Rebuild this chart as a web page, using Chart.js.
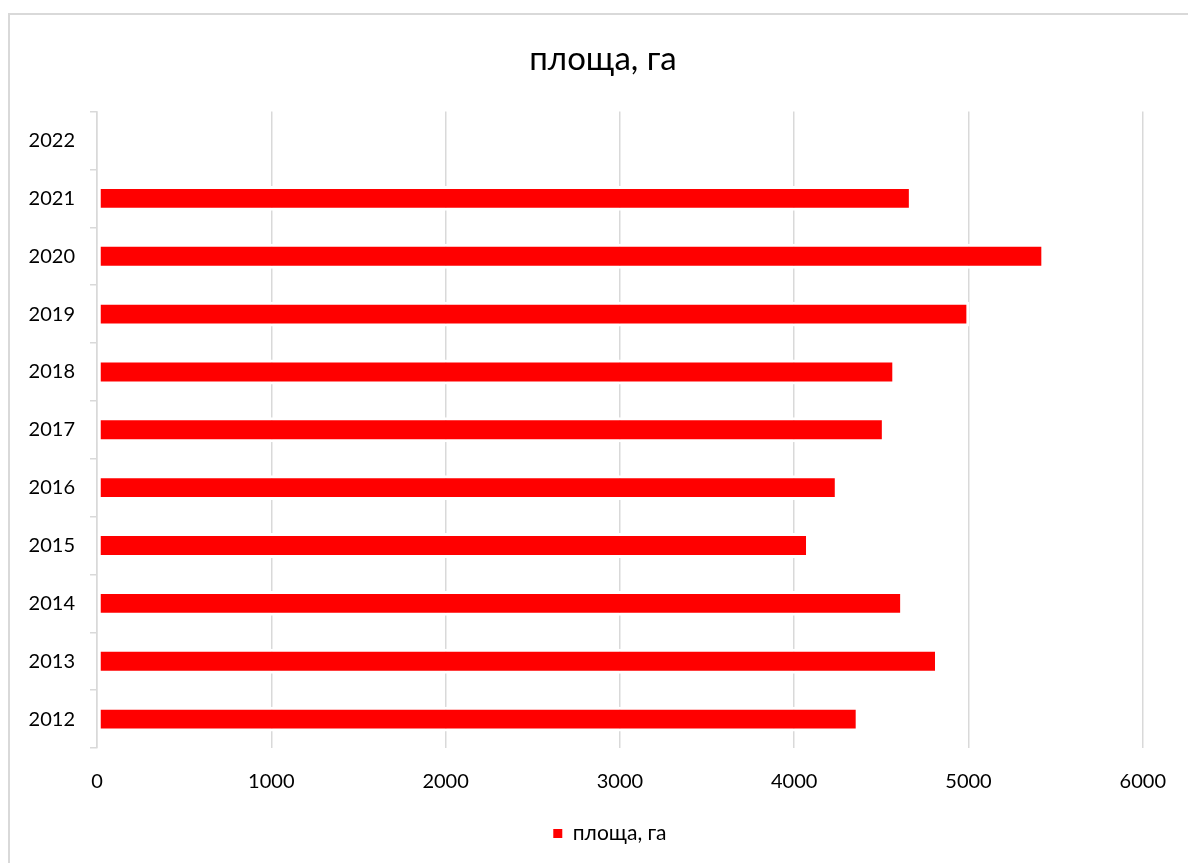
<!DOCTYPE html>
<html lang="uk">

<head>
    <meta charset="UTF-8">
    <title>площа, га</title>
    <style>
        body {
            margin: 0;
            background: #fff;
        }

        .frame {
            position: absolute;
            left: 8px;
            top: 13px;
            width: 1200px;
            height: 900px;
            border: 2px solid #d9d9d9;
            box-sizing: border-box;
        }

        #chart {
            position: absolute;
            left: 0;
            top: 0;
        }
    </style>
</head>

<body>
    <div class="frame"></div>
    <canvas id="chart" width="1188" height="863"></canvas>
    <script src="https://cdn.jsdelivr.net/npm/chart.js"></script>
    <script>
        // роки (знизу вгору) та площа
        const years = ['2012', '2013', '2014', '2015', '2016', '2017', '2018', '2019', '2020', '2021', '2022'];
        const area = [4370, 4825, 4625, 4085, 4250, 4520, 4580, 5005, 5435, 4675, null];
        const xTicks = [0, 1000, 2000, 3000, 4000, 5000, 6000];
        const seriesName = 'площа, га';

        const gridGrey = '#d9d9d9';
        const fontFamily = 'Lato, "Open Sans", sans-serif';

        // заголовок і легенда центруються по рамці, а не по області графіка
        const centerOnFrame = {
            id: 'centerOnFrame',
            afterLayout: function (chart) {
                chart.titleBlock.left -= 34;
                chart.legend.left -= 20;
            }
        };

        const ctx = document.getElementById('chart');
        const config = {
            type: 'bar',
            data: {
                labels: years,
                datasets: [{
                    label: seriesName,
                    data: area,
                    backgroundColor: '#ff0000',
                    borderColor: '#ffffff',
                    borderWidth: 3,
                    borderSkipped: false,
                    barPercentage: 0.43,
                    categoryPercentage: 1
                }]
            },
            options: {
                indexAxis: 'y',
                responsive: false,
                animation: false,
                layout: {
                    padding: { left: 0, right: 41, top: 0, bottom: 9 }
                },
                plugins: {
                    title: {
                        display: true,
                        fullSize: false,
                        text: seriesName,
                        color: '#000',
                        font: { family: fontFamily, size: 33, weight: 'normal' },
                        padding: { top: 40, bottom: 32 }
                    },
                    legend: {
                        position: 'bottom',
                        fullSize: false,
                        labels: {
                            color: '#000',
                            font: { family: fontFamily, size: 21 },
                            boxWidth: 9,
                            boxHeight: 9,
                            padding: 10,
                            generateLabels: function (chart) {
                                return [{
                                    text: seriesName,
                                    fillStyle: '#ff0000',
                                    strokeStyle: '#ff0000',
                                    lineWidth: 0,
                                    datasetIndex: 0
                                }];
                            }
                        }
                    },
                    tooltip: { enabled: false }
                },
                scales: {
                    x: {
                        min: 0,
                        max: 6000,
                        afterBuildTicks: function (scale) {
                            scale.ticks = xTicks.map(v => ({ value: v }));
                        },
                        afterFit: function (scale) {
                            scale.height = 65;
                        },
                        grid: {
                            color: gridGrey,
                            lineWidth: 1.5,
                            drawTicks: false
                        },
                        border: { display: false },
                        ticks: {
                            color: '#000',
                            font: { family: fontFamily, size: 20 },
                            padding: 22,
                            callback: function (value) {
                                return String(value);
                            }
                        }
                    },
                    y: {
                        reverse: true,
                        afterFit: function (scale) {
                            scale.width = 97;
                        },
                        grid: {
                            color: gridGrey,
                            lineWidth: 1.5,
                            drawOnChartArea: false,
                            drawTicks: true,
                            tickLength: 7,
                            offset: true
                        },
                        border: { display: true, color: gridGrey, width: 1.5 },
                        ticks: {
                            color: '#000',
                            font: { family: fontFamily, size: 20 },
                            padding: 15
                        }
                    }
                }
            },
            plugins: [centerOnFrame]
        };
        new Chart(ctx, config);
    </script>
</body>

</html>
